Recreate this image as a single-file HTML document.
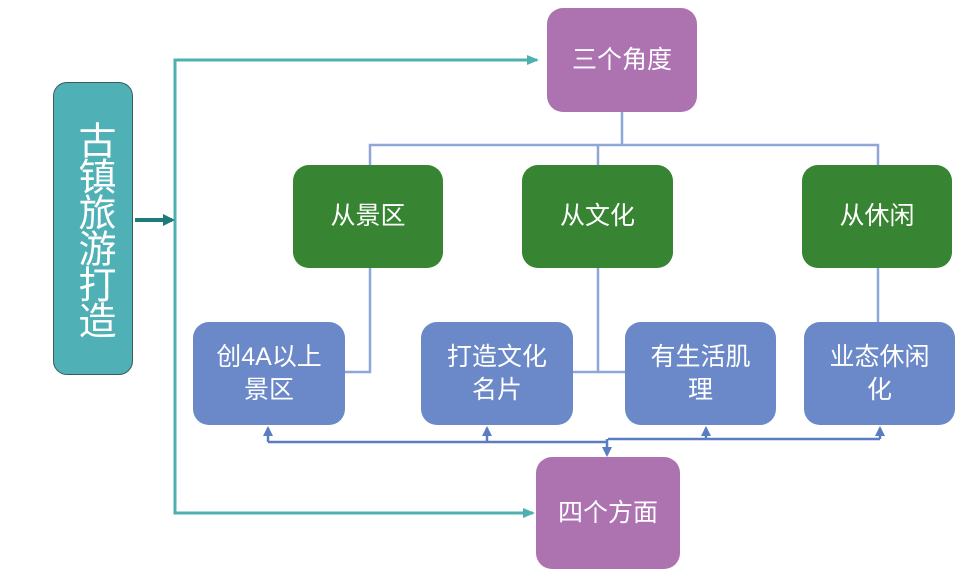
<!DOCTYPE html>
<html><head><meta charset="utf-8"><style>
body{margin:0;width:960px;height:579px;background:#fff;position:relative;overflow:hidden;font-family:"Liberation Sans","Noto Sans CJK SC",sans-serif}
.b{position:absolute;border-radius:16px;color:#fff;display:flex;align-items:center;justify-content:center;text-align:center;font-size:25px;line-height:33px}
.p{background:#ad72b0}
.g{background:#378432}
.u{background:#6b89c8}
</style></head><body>
<svg width="960" height="579" style="position:absolute;left:0;top:0">
<defs>
<marker id="t" markerWidth="12" markerHeight="10" refX="10" refY="5" orient="auto" markerUnits="userSpaceOnUse"><path d="M0,0 L12,5 L0,10z" fill="#4fb0b0"/></marker>
<marker id="d" markerWidth="12" markerHeight="12" refX="9" refY="6" orient="auto" markerUnits="userSpaceOnUse"><path d="M0,0 L12,6 L0,12z" fill="#1f7a7a"/></marker>
<marker id="a" markerWidth="10" markerHeight="10" refX="8" refY="5" orient="auto" markerUnits="userSpaceOnUse"><path d="M0,0 L10,5 L0,10z" fill="#5a7cc0"/></marker>
</defs>
<g stroke="#4fb0b0" stroke-width="3" fill="none">
<polyline points="537,60 175,60 175,513 533,513" marker-end="url(#t)"/>
<line x1="520" y1="60" x2="537" y2="60" marker-end="url(#t)"/>
</g>
<line x1="135" y1="220" x2="172" y2="220" stroke="#1f7a7a" stroke-width="4" marker-end="url(#d)"/>
<g stroke="#8ea6d8" stroke-width="2.5" fill="none">
<line x1="622" y1="112" x2="622" y2="145"/>
<polyline points="370,165 370,145 878,145 878,165"/>
<line x1="598" y1="145" x2="598" y2="165"/>
<polyline points="370,268 370,372 345,372"/>
<line x1="598" y1="268" x2="598" y2="372"/>
<line x1="573" y1="372" x2="625" y2="372"/>
<line x1="878" y1="268" x2="878" y2="322"/>
</g>
<g stroke="#5a7cc0" stroke-width="2.5" fill="none">
<line x1="268" y1="442" x2="608" y2="442"/>
<line x1="608" y1="439" x2="880" y2="439"/>
<line x1="268" y1="442" x2="268" y2="428" marker-end="url(#a)"/>
<line x1="487" y1="442" x2="487" y2="428" marker-end="url(#a)"/>
<line x1="706" y1="439" x2="706" y2="428" marker-end="url(#a)"/>
<line x1="880" y1="439" x2="880" y2="428" marker-end="url(#a)"/>
<line x1="607" y1="439" x2="607" y2="455" marker-end="url(#a)"/>
</g>
</svg>
<div class="b" style="left:53px;top:82px;width:78px;height:291px;background:#4fb0b5;border:1.5px solid #3a5a60;border-radius:14px;font-size:38px;line-height:44px;writing-mode:vertical-rl;letter-spacing:-2px">古镇旅游打造</div>
<div class="b p" style="left:547px;top:8px;width:150px;height:104px">三个角度</div>
<div class="b g" style="left:293px;top:165px;width:150px;height:103px">从景区</div>
<div class="b g" style="left:522px;top:165px;width:151px;height:103px">从文化</div>
<div class="b g" style="left:802px;top:165px;width:150px;height:103px">从休闲</div>
<div class="b u" style="left:193px;top:322px;width:152px;height:103px">创4A以上<br>景区</div>
<div class="b u" style="left:421px;top:322px;width:152px;height:103px">打造文化<br>名片</div>
<div class="b u" style="left:625px;top:322px;width:151px;height:103px">有生活肌<br>理</div>
<div class="b u" style="left:804px;top:322px;width:151px;height:103px">业态休闲<br>化</div>
<div class="b p" style="left:536px;top:457px;width:144px;height:112px">四个方面</div>
</body></html>
